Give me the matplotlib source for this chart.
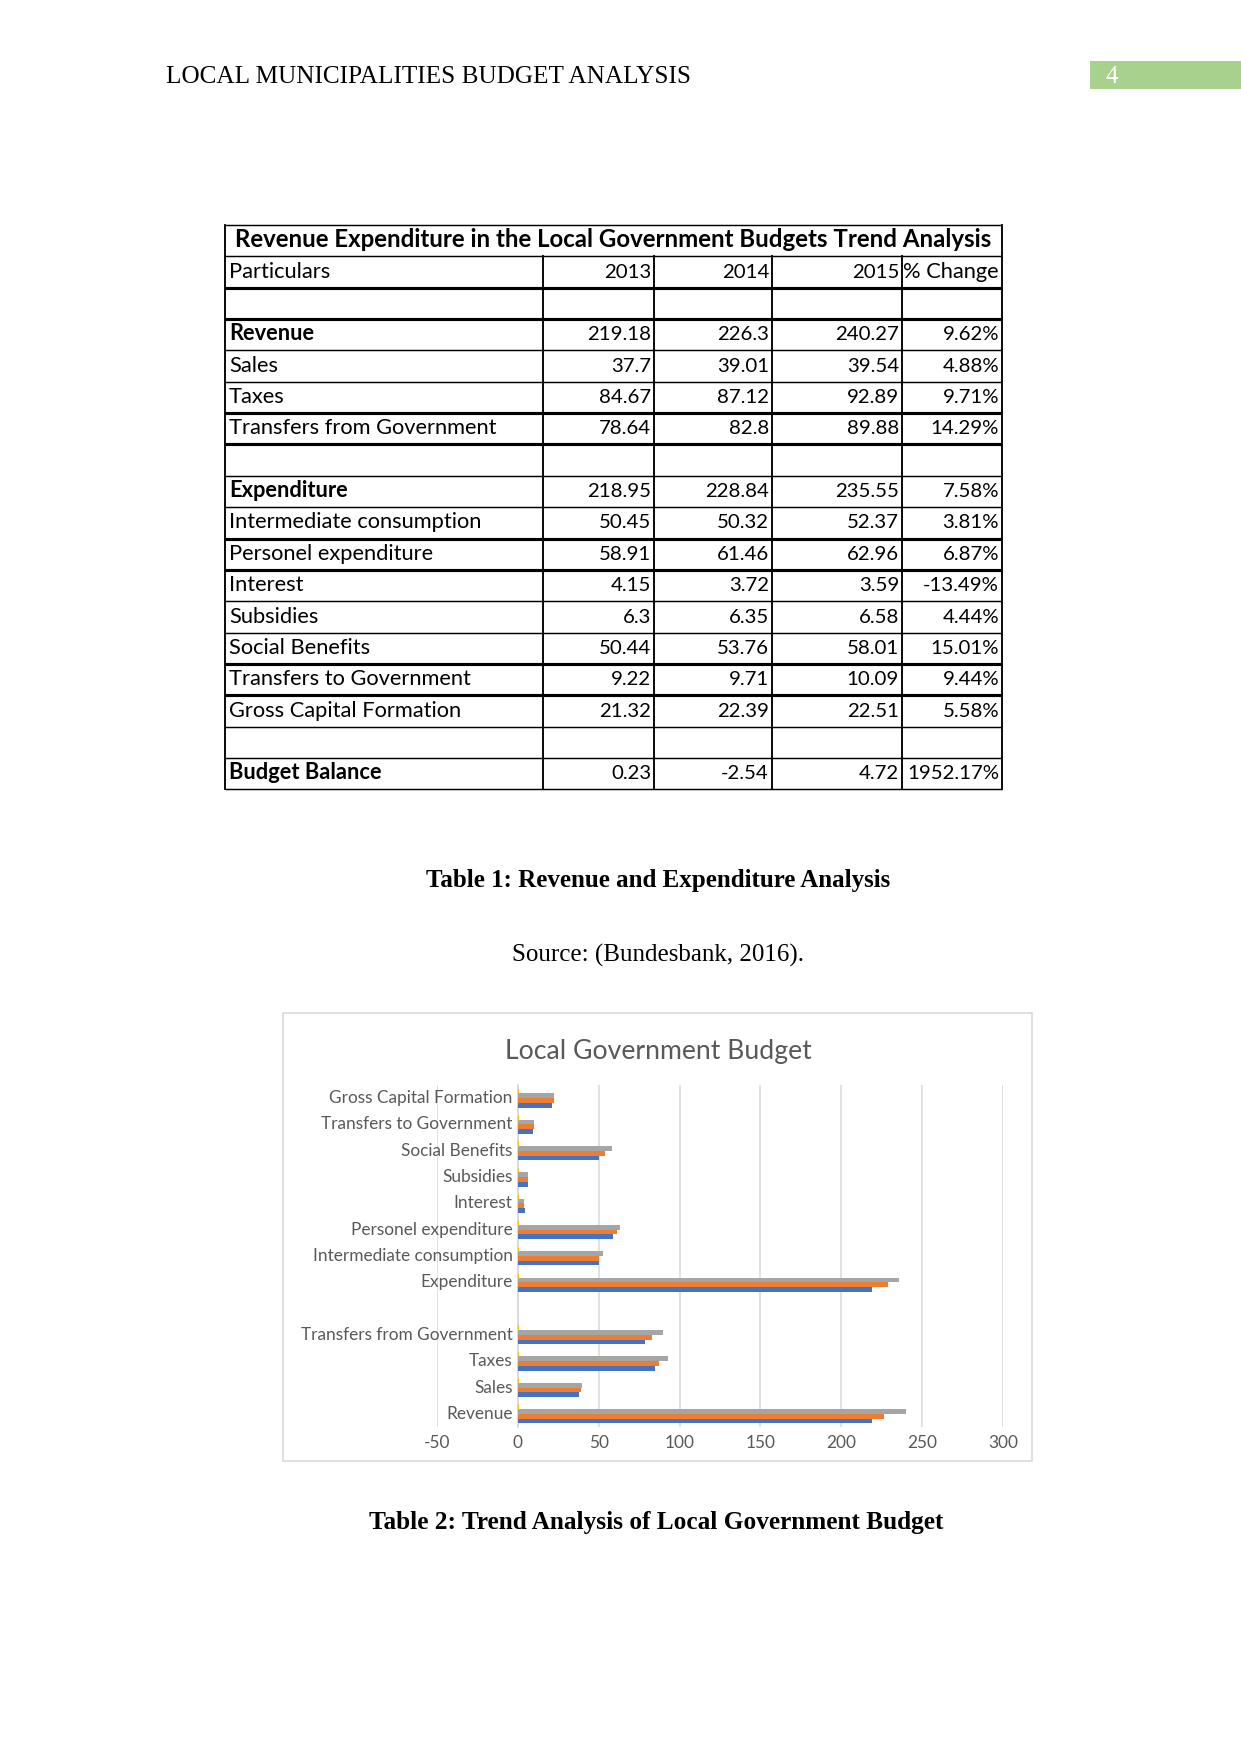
import matplotlib.pyplot as plt
from matplotlib.patches import Rectangle
import numpy as np

plt.rcParams["axes.unicode_minus"] = False

# --- data ---
particulars = ["", "Revenue", "Sales", "Taxes", "Transfers from Government", "",
               "Expenditure", "Intermediate consumption", "Personel expenditure",
               "Interest", "Subsidies", "Social Benefits", "Transfers to Government",
               "Gross Capital Formation", "", "Budget Balance"]
years = ["2013", "2014", "2015"]
v2013 = [None, 219.18, 37.7, 84.67, 78.64, None, 218.95, 50.45, 58.91,
         4.15, 6.3, 50.44, 9.22, 21.32, None, 0.23]
v2014 = [None, 226.3, 39.01, 87.12, 82.8, None, 228.84, 50.32, 61.46,
         3.72, 6.35, 53.76, 9.71, 22.39, None, -2.54]
v2015 = [None, 240.27, 39.54, 92.89, 89.88, None, 235.55, 52.37, 62.96,
         3.59, 6.58, 58.01, 10.09, 22.51, None, 4.72]
pct_change = [None, 9.62, 4.88, 9.71, 14.29, None, 7.58, 3.81, 6.87,
              -13.49, 4.44, 15.01, 9.44, 5.58, None, 1952.17]
bold_rows = ["Revenue", "Expenditure", "Budget Balance"]

# the chart shows Revenue .. Gross Capital Formation (blank row kept)
chart_idx = list(range(1, 14))
xticks = [-50, 0, 50, 100, 150, 200, 250, 300]

W, H = 1241, 1754
fig = plt.figure(figsize=(W / 150, H / 150), dpi=150)
page = fig.add_axes([0, 0, 1, 1])
page.set_xlim(0, W)
page.set_ylim(H, 0)
page.axis("off")

serif = "Liberation Serif"
sans = "Lato"
grey_txt = "#595959"

# --- page header ---
page.text(166, 77, "LOCAL MUNICIPALITIES BUDGET ANALYSIS", family=serif,
          fontsize=12.1, va="center", ha="left")
page.add_patch(Rectangle((1090, 61), 151, 28, color="#A9D18E", lw=0))
page.text(1106, 77, "4", family=serif, fontsize=12, color="white", va="center")

# --- table ---
cols = [225, 543, 654, 772, 902, 1002]
top, rh = 225, 31.35
nlines = 19
thick = {2, 3, 6, 7, 10, 11, 14, 15}
for i in range(nlines):
    y = top + i * rh
    page.plot([cols[0], cols[-1]], [y, y], color="black",
              lw=1.5 if i in thick else 0.7, solid_capstyle="butt")
bottom = top + (nlines - 1) * rh
for j, x in enumerate(cols):
    y0 = top if j in (0, len(cols) - 1) else top + rh
    page.plot([x, x], [y0, bottom], color="black", lw=0.9)

fs = 10.5   # row labels
fn = 9.8    # numbers (Calibri digits are narrow)
off = 10    # baseline above the row's bottom edge
page.text((cols[0] + cols[-1]) / 2, top + rh - 9,
          "Revenue Expenditure in the Local Government Budgets Trend Analysis",
          family=sans, fontsize=11.5, weight="bold", ha="center", va="baseline")
hy = top + 2 * rh - off
page.text(cols[0] + 4, hy, "Particulars", family=sans, fontsize=fs, va="baseline")
for j, yr in enumerate(years):
    page.text(cols[j + 2] - 3, hy, yr, family=sans, fontsize=fn,
              ha="right", va="baseline")
page.text(cols[5] - 3, hy, "% Change", family=sans, fontsize=fs,
          ha="right", va="baseline")

def fmt(v):
    return "" if v is None else f"{v:g}"

for r, name in enumerate(particulars):
    y = top + (r + 3) * rh - off
    w = "bold" if name in bold_rows else "normal"
    page.text(cols[0] + 4, y, name, family=sans, fontsize=fs, weight=w, va="baseline")
    for j, vals in enumerate([v2013, v2014, v2015]):
        page.text(cols[j + 2] - 3, y, fmt(vals[r]), family=sans, fontsize=fn,
                  ha="right", va="baseline")
    if pct_change[r] is not None:
        page.text(cols[5] - 3, y, f"{pct_change[r]:.2f}%", family=sans,
                  fontsize=fn, ha="right", va="baseline")

# --- captions ---
page.text(658, 880, "Table 1: Revenue and Expenditure Analysis", family=serif,
          fontsize=12, weight="bold", ha="center", va="center")
page.text(658, 955, "Source: (Bundesbank, 2016).", family=serif,
          fontsize=12, ha="center", va="center")
page.text(656, 1523, "Table 2: Trend Analysis of Local Government Budget",
          family=serif, fontsize=12.1, weight="bold", ha="center", va="center")

# --- chart frame and title ---
page.add_patch(Rectangle((283, 1013), 749, 448, fill=False,
                         edgecolor="#D9D9D9", lw=0.8))
page.text(658, 1052, "Local Government Budget", family=sans, fontsize=12.8,
          color=grey_txt, ha="center", va="center")

# --- bar chart ---
L, R, T, B = 437, 1003, 1085, 1427
ax = fig.add_axes([L / W, 1 - B / H, (R - L) / W, (B - T) / H])
ax.set_facecolor("none")

labels = [particulars[i] for i in chart_idx]
ypos = np.arange(len(chart_idx))
bh = 0.18
series = [
    ([v2013[i] for i in chart_idx], "#4472C4"),
    ([v2014[i] for i in chart_idx], "#ED7D31"),
    ([v2015[i] for i in chart_idx], "#A5A5A5"),
    ([None if pct_change[i] is None else pct_change[i] / 100 for i in chart_idx], "#FFC000"),
]
for k, (vals, c) in enumerate(series):
    vals = [np.nan if v is None else v for v in vals]
    ax.barh(ypos + (k - 1.5) * bh, vals, height=bh, color=c,
            edgecolor=c if k == 3 else "none", lw=0.6, zorder=3)

ax.set_xlim(-50, 300)
ax.set_ylim(-0.5, len(chart_idx) - 0.5)
ax.set_xticks(xticks)
ax.set_yticks(ypos)
ax.set_yticklabels(labels)
ax.xaxis.grid(True, color="#D9D9D9", lw=0.75, zorder=0)
ax.set_axisbelow(True)
for s in ["top", "right", "bottom"]:
    ax.spines[s].set_visible(False)
ax.spines["left"].set_position(("data", 0))
ax.spines["left"].set_color("#D9D9D9")
ax.spines["left"].set_linewidth(0.75)
ax.tick_params(axis="both", length=0, labelcolor=grey_txt, labelsize=8.3)
ax.tick_params(axis="y", pad=2.5)
ax.tick_params(axis="x", pad=4)
for t in ax.get_xticklabels() + ax.get_yticklabels():
    t.set_family(sans)
    t.set_verticalalignment("center") if t in ax.get_yticklabels() else None

fig.savefig("out.png", dpi=150)
